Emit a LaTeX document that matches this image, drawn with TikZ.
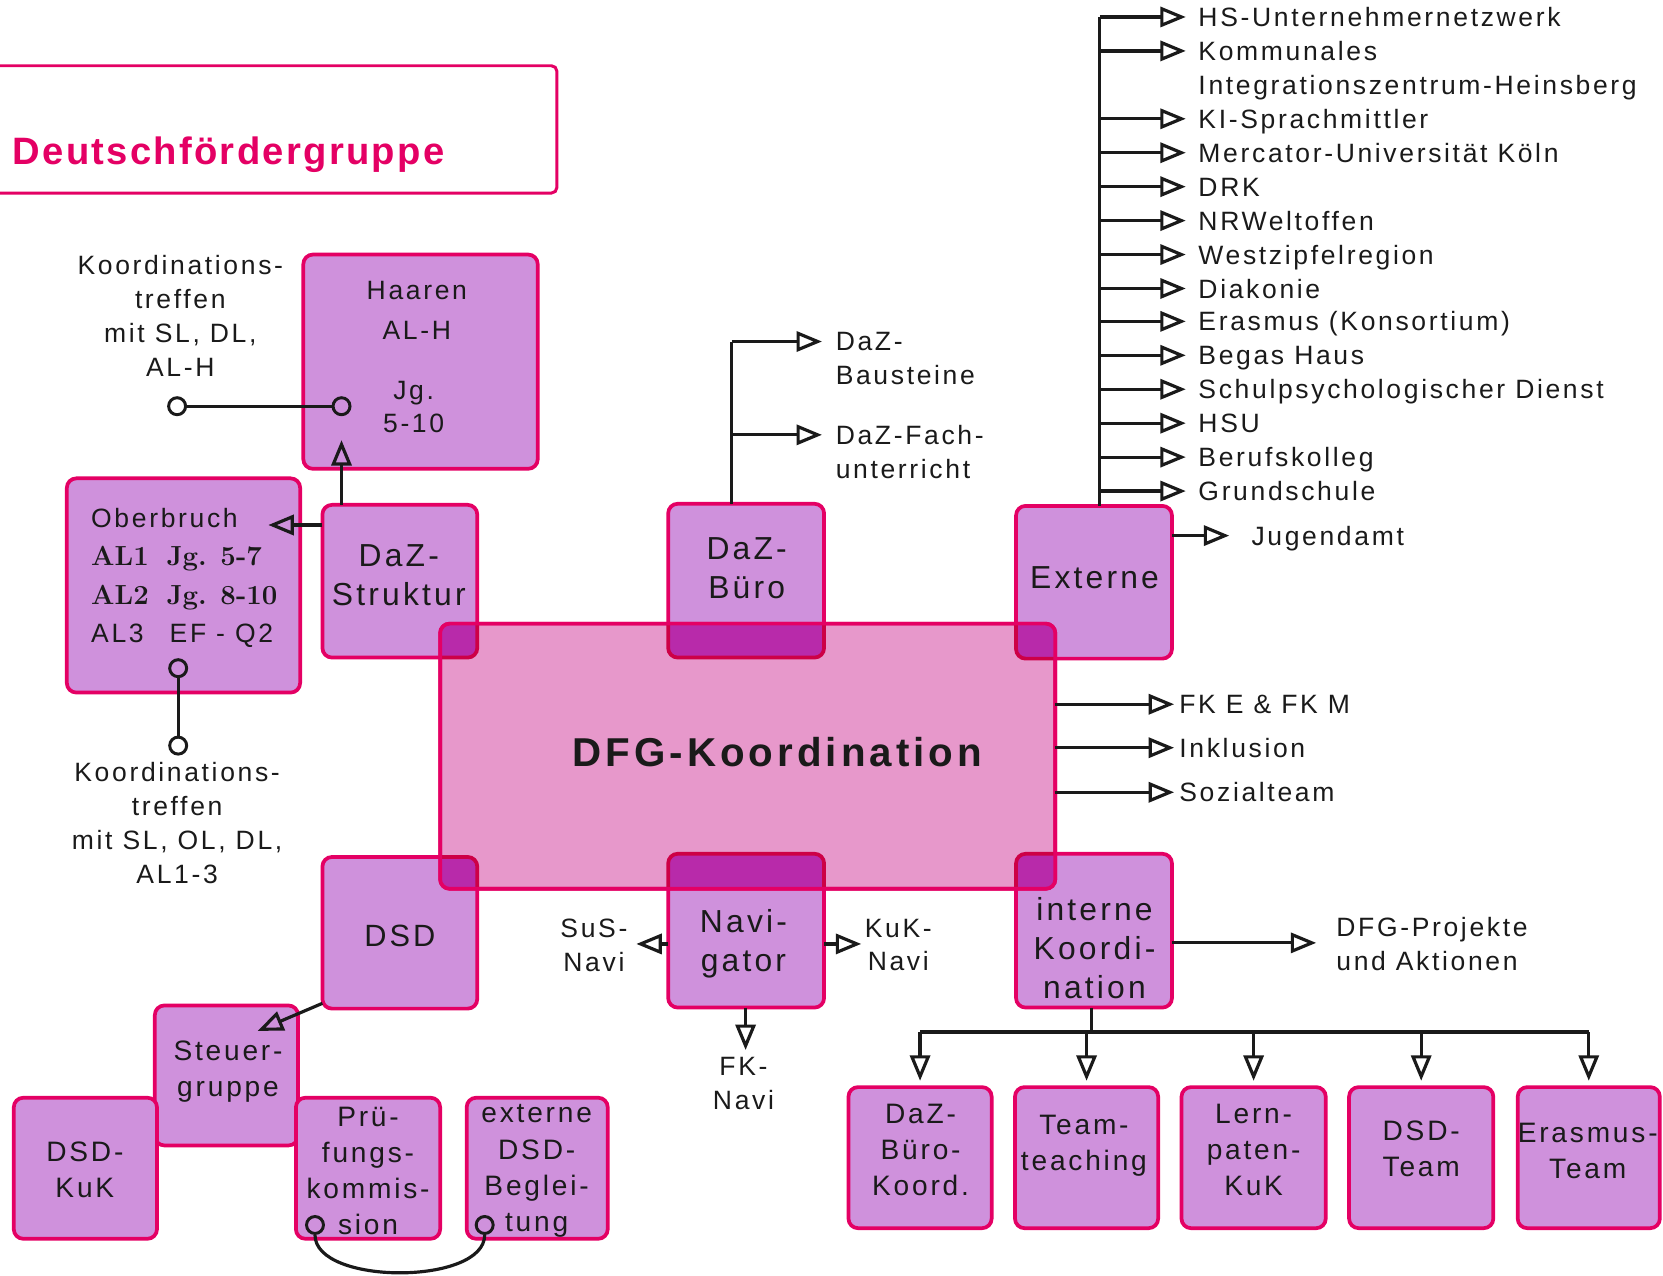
\documentclass[tikz,border=0pt]{standalone}
\usepackage{fontspec}
\usetikzlibrary{arrows.meta}
\newfontfamily\ls[LetterSpace=10]{Liberation Sans}
\newfontfamily\lst[LetterSpace=6]{Liberation Sans}
\definecolor{lav}{RGB}{207,145,220}
\definecolor{mag}{RGB}{228,0,100}
\definecolor{magd}{RGB}{205,0,70}
\definecolor{pinkbig}{RGB}{231,152,203}
\definecolor{ovl}{RGB}{184,42,170}
\definecolor{ink}{RGB}{26,26,26}
\newcommand\fa{\ls\fontsize{25}{32}\selectfont}
\newcommand\fb{\ls\fontsize{30}{37}\selectfont}
\newcommand\fc{\ls\fontsize{26.5}{34}\selectfont}
\newcommand\mkbox[5]{\node[pbox,anchor=north west,minimum width=#4pt,minimum height=#5pt] (#1) at (#2,#3) {};}
\tikzset{
  pbox/.style={draw=mag, fill=lav, line width=3.5pt, rounded corners=9pt, inner sep=0pt, outer sep=0pt},
  ln/.style={draw=ink, line width=3pt},
  arr/.style={ln, -{Triangle[open, length=24pt, width=19pt]}},
  t/.style={inner sep=0pt, outer sep=0pt, align=center, text=ink},
  one/.style={t, text height=18pt, text depth=0pt},
  dot/.style={circle, draw=ink, line width=2.8pt, minimum size=16pt, inner sep=0pt},
}
\begin{document}
\begin{tikzpicture}[x={(1pt,0pt)},y={(0pt,-1pt)}]
\useasboundingbox (0,0) rectangle (1568,1203);
% title
\node[draw=mag, line width=2.8pt, rounded corners=5pt, minimum width=535pt, minimum height=120pt, anchor=north west, inner sep=0pt, outer sep=0pt] (titlebox) at (-10,62) {};
\node[t, anchor=west, text=mag, font=\lst\bfseries\fontsize{36}{40}\selectfont] (title) at (12,146) {Deutschfördergruppe};
% boxes
\mkbox{haaren}{286}{240}{221}{202}
\mkbox{ober}{63}{451}{220}{202}
\mkbox{struktur}{304}{476}{146}{144}
\mkbox{buero}{630}{475}{147}{145}
\mkbox{externe}{958}{477}{147}{144}
\mkbox{dsd}{304}{808}{146}{143}
\mkbox{navi}{630}{805}{147}{145}
\mkbox{intern}{958}{805}{147}{145}
\mkbox{steuer}{146}{948}{135}{132}
\mkbox{dsdkuk}{13}{1035}{135}{133}
\mkbox{pruef}{279}{1035}{136}{133}
\mkbox{extdsd}{440}{1035}{133}{133}
\mkbox{bA}{800}{1025}{135}{133}
\mkbox{bB}{957}{1025}{135}{133}
\mkbox{bC}{1114}{1025}{136}{133}
\mkbox{bD}{1272}{1025}{136}{133}
\mkbox{bE}{1431}{1025}{134}{133}
% big box
\node[pbox, fill=pinkbig, anchor=north west, minimum width=580pt, minimum height=250pt] (dfg) at (415,588) {};
\begin{scope}
\clip[rounded corners=9pt] (dfg.north west) rectangle (dfg.south east);
\foreach \b in {struktur,buero,externe,dsd,navi,intern}{
  \fill[ovl, rounded corners=9pt] (\b.north west) rectangle (\b.south east);
  \draw[magd, line width=3.5pt, rounded corners=9pt] (\b.north west) rectangle (\b.south east);}
\end{scope}
\draw[mag, line width=3.5pt, rounded corners=9pt] (dfg.north west) rectangle (dfg.south east);
\node[t, font=\ls\bfseries\fontsize{38}{44}\selectfont] (dfgt) at (733,709) {DFG-Koordination};
% Haaren
\node[one,font=\fa] (h1) at (393,273) {Haaren};
\node[one,font=\fa] (h2) at (393,311) {AL-H};
\node[one,font=\fa] (h3) at (390,368) {Jg.};
\node[one,font=\fa] (h4) at (390,399) {5-10};
% Oberbruch
\node[one,font=\fa,anchor=west] (ob1) at (86,488) {Oberbruch};
\node[one,font=\rmfamily\bfseries\fontsize{26}{30}\selectfont,anchor=west] (ob2) at (86,524) {AL1};
\node[one,font=\rmfamily\bfseries\fontsize{26}{30}\selectfont,anchor=west] (ob2b) at (157,524) {Jg. 5-7};
\node[one,font=\rmfamily\bfseries\fontsize{26}{30}\selectfont,anchor=west] (ob3) at (86,561) {AL2};
\node[one,font=\rmfamily\bfseries\fontsize{26}{30}\selectfont,anchor=west] (ob3b) at (157,561) {Jg. 8-10};
\node[one,font=\fa,anchor=west] (ob4) at (86,597) {AL3};
\node[one,font=\fa,anchor=west] (ob4b) at (160,597) {EF - Q2};
% Koordinationstreffen
\node[t,font=\fa] (k1) at (170,298) {Koordinations-\\treffen\\mit SL, DL,\\AL-H};
\node[t,font=\fa] (k2) at (167,776) {Koordinations-\\treffen\\mit SL, OL, DL,\\AL1-3};
\node[dot] (dh1) at (167,383) {};
\node[dot] (dh2) at (322,383) {};
\draw[ln] (dh1) -- (dh2);
\node[dot] (do1) at (168,630) {};
\node[dot] (do2) at (168,703) {};
\draw[ln] (do1) -- (do2);
% DaZ-Struktur
\node[t,font=\fb] (strukt) at (376,542) {DaZ-\\Struktur};
\coordinate (hT) at (322,415);
\draw[arr] (struktur.north -| hT) -- (hT);
\coordinate (oT) at (253,495);
\draw[arr] (struktur.west |- oT) -- (oT);
% DaZ-Buero
\node[t,font=\fb] (buerot) at (704,536) {DaZ-\\Büro};
\coordinate (bz1) at (690,322);
\coordinate (bz2) at (690,410);
\coordinate (bzT1) at (775,322);
\coordinate (bzT2) at (775,410);
\draw[ln] (buero.north -| bz1) -- (bz1);
\draw[arr] (bz1) -- (bzT1);
\draw[arr] (bz2) -- (bzT2);
\node[t,font=\fa,anchor=west,align=left] (baus) at (788,338) {DaZ-\\Bausteine};
\node[t,font=\fa,anchor=west,align=left] (fach) at (788,426) {DaZ-Fach-\\unterricht};
% Externe
\node[t,font=\fb] (extt) at (1032,545) {Externe};
\coordinate (vtop) at (1037,16);
\draw[ln] (externe.north -| vtop) -- (vtop);
\foreach \n/\y/\s in {1/16/HS-Unternehmernetzwerk, 2/48/Kommunales, 4/112/KI-Sprachmittler, 5/144/Mercator-Universität Köln, 6/176/DRK, 7/208/NRWeltoffen, 8/240/Westzipfelregion, 9/272/Diakonie, 10/303/Erasmus (Konsortium), 11/335/Begas Haus, 12/367/Schulpsychologischer Dienst, 13/399/HSU, 14/431/Berufskolleg, 15/463/Grundschule}{
  \node[one,font=\fa,anchor=west] (e\n) at (1130,\y) {\s};
  \draw[arr] (vtop |- e\n.west) -- ([xshift=-12pt]e\n.west);
}
\node[one,font=\fa,anchor=west] (e3) at (1130,80) {Integrationszentrum-Heinsberg};
\node[one,font=\fa,anchor=west] (jug) at (1180,505) {Jugendamt};
\draw[arr] (externe.east |- jug.west) -- ([xshift=-21pt]jug.west);
% DFG right
\node[one,font=\fa,anchor=west] (fk) at (1112,664) {FK E \& FK M};
\node[one,font=\fa,anchor=west] (inkl) at (1112,705) {Inklusion};
\node[one,font=\fa,anchor=west] (soz) at (1112,747) {Sozialteam};
\foreach \n in {fk,inkl,soz}{\draw[arr] (dfg.east |- \n.west) -- ([xshift=-5pt]\n.west);}
% Navigator
\node[t,font=\fb] (navit) at (701,890) {Navi-\\gator};
\node[t,font=\fa] (sus) at (560,891) {SuS-\\Navi};
\node[t,font=\fa] (kuk) at (847,891) {KuK-\\Navi};
\node[t,font=\fa] (fkn) at (701,1022) {FK-\\Navi};
\coordinate (susT) at (600,890);
\draw[arr] (navi.west |- susT) -- (susT);
\coordinate (kukT) at (812,890);
\draw[arr] (navi.east |- kukT) -- (kukT);
\coordinate (fknT) at (703,990);
\draw[arr] (navi.south -| fknT) -- (fknT);
% interne Koordination
\node[t,font=\fb] (intt) at (1032,894) {interne\\Koordi-\\nation};
\node[t,font=\fa,anchor=west,align=left] (proj) at (1260,890) {DFG-Projekte\\und Aktionen};
\coordinate (projT) at (1241,889);
\draw[arr] (intern.east |- projT) -- (projT);
\coordinate (tj) at (1029,973);
\draw[ln] (intern.south -| tj) -- (tj);
\draw[ln] (bA.north |- tj) -- (bE.north |- tj);
\foreach \b in {bA,bB,bC,bD,bE}{\draw[arr] (\b.north |- tj) -- ([yshift=6pt]\b.north);}
\node[t,font=\fc] (bAt) at (868,1084) {DaZ-\\Büro-\\Koord.};
\node[t,font=\fc] (bBt) at (1022,1080) {Team-\\teaching};
\node[t,font=\fc] (bCt) at (1182,1084) {Lern-\\paten-\\KuK};
\node[t,font=\fc] (bDt) at (1340,1083) {DSD-\\Team};
\node[t,font=\fc] (bEt) at (1497,1085) {Erasmus-\\Team};
% DSD group
\node[t,font=\ls\fontsize{29}{35}\selectfont] (dsdt) at (377,882) {DSD};
\node[t,font=\fc] (steuert) at (215,1010) {Steuer-\\gruppe};
\coordinate (stT) at (243,972);
\draw[arr] ([yshift=5pt]dsd.south west) -- (stT);
\node[t,font=\fc] (dsdkukt) at (80,1103) {DSD-\\KuK};
\node[t,font=\fc] (prueft) at (347,1104) {Prü-\\fungs-\\kommis-\\sion};
\node[t,font=\fc] (extdsdt) at (506,1104) {externe\\DSD-\\Beglei-\\tung};
\node[dot] (cp) at (297,1155) {};
\node[dot] (ce) at (457,1155) {};
\draw[ln] (cp.south) .. controls (297,1212) and (457,1212) .. (ce.south);
\end{tikzpicture}
\end{document}
